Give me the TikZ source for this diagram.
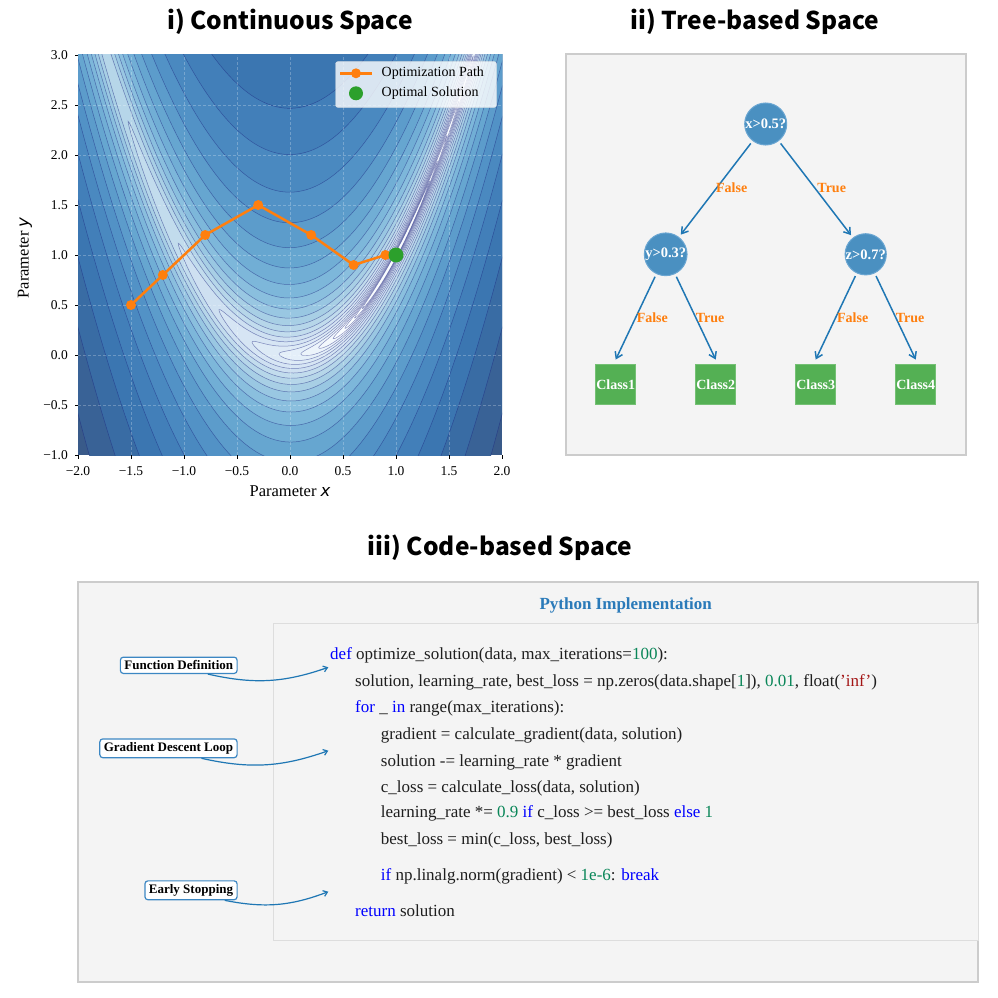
\documentclass[tikz,border=0pt]{standalone}
\usepackage{fontspec}
\setmainfont{Liberation Serif}
\newfontfamily\titlefont{Noto Sans CJK SC}
\newfontfamily\djv{DejaVu Sans}
\usetikzlibrary{arrows.meta}
\definecolor{B0}{HTML}{F7FBFF}
\definecolor{B1}{HTML}{DEEBF7}
\definecolor{B2}{HTML}{C6DBEF}
\definecolor{B3}{HTML}{9ECAE1}
\definecolor{B4}{HTML}{6BAED6}
\definecolor{B5}{HTML}{4292C6}
\definecolor{B6}{HTML}{2171B5}
\definecolor{B7}{HTML}{08519C}
\definecolor{B8}{HTML}{08306B}
\definecolor{mplblue}{HTML}{1F77B4}
\definecolor{mplorange}{HTML}{FF7F0E}
\definecolor{mplgreen}{HTML}{2CA02C}
\definecolor{panelbg}{HTML}{F4F4F4}
\definecolor{panelbd}{HTML}{CCCCCC}
\definecolor{innerbd}{HTML}{DDDDDD}
\definecolor{kwc}{HTML}{0000FF}
\definecolor{numc}{HTML}{098658}
\definecolor{strc}{HTML}{A31515}
\definecolor{codetxt}{HTML}{1E1E1E}
\definecolor{linec}{HTML}{1A237E}
\definecolor{dcol}{HTML}{4A90C1}
\definecolor{dbd}{HTML}{6AA6D2}
\definecolor{lcol}{HTML}{54B054}
\definecolor{lbd}{HTML}{74C074}
\definecolor{annbd}{HTML}{3C87C3}
\definecolor{pytitle}{HTML}{2A7AB9}
\newcommand\ckw[1]{\textcolor{kwc}{#1}}
\newcommand\cnum[1]{\textcolor{numc}{#1}}
\newcommand\cstr[1]{\textcolor{strc}{#1}}
\begin{document}
\begin{tikzpicture}[x=1pt,y=-1pt,
  paneltitle/.style={font=\titlefont\bfseries\fontsize{24.5}{28}\selectfont},
  mytick/.style={font=\fontsize{13.5}{16}\selectfont, inner sep=0pt},
  axlabel/.style={font=\fontsize{16.5}{19}\selectfont, inner sep=0pt},
  contourline/.style={draw=linec, draw opacity=0.5, line width=0.5pt},
  gridl/.style={draw=white, draw opacity=0.25, dash pattern=on 3pt off 2pt, line width=0.6pt},
  pathl/.style={draw=mplorange, line width=2.5pt},
  dnode/.style={circle, minimum size=40pt, inner sep=0pt, fill=dcol, draw=dbd, line width=1pt, text=white, font=\bfseries\fontsize{14.5}{16}\selectfont},
  leaf/.style={rectangle, minimum size=40.5pt, inner sep=0pt, fill=lcol, draw=lbd, line width=1pt, text=white, font=\bfseries\fontsize{14}{16}\selectfont},
  tarrow/.style={draw=mplblue, line width=1.5pt, -{Straight Barb[length=6pt,width=8pt]}, shorten >=3pt, shorten <=3pt},
  elabel/.style={text=mplorange, inner sep=0pt, font=\bfseries\fontsize{14}{16}\selectfont},
  panelbox/.style={fill=panelbg, draw=panelbd, line width=1.5pt, inner sep=0pt},
  annot/.style={draw=annbd, fill=white, rounded corners=3pt, line width=1.2pt, font=\bfseries\fontsize{13}{15}\selectfont, inner xsep=4pt, inner ysep=3.5pt, anchor=east},
  annarrow/.style={draw=mplblue, line width=1.2pt, -{Straight Barb[length=4pt,width=6pt]}},
  codeline/.style={anchor=base west, inner sep=0pt, text=codetxt, font=\fontsize{17}{20}\selectfont}
]
\useasboundingbox (0,0) rectangle (997,998);
\fill[white] (0,0) rectangle (997,998);

% ---------- titles
\node[paneltitle] (t1) at (290,22) {i) Continuous Space};
\node[paneltitle] (t2) at (755,22) {ii) Tree-based Space};
\node[paneltitle] (t3) at (500,548) {iii) Code-based Space};

% ---------- contour plot
\begin{scope}[shift={(290,355)}, x={(106pt,0pt)}, y={(0pt,100pt)}]
  \begin{scope}
    \clip (-2,-1) rectangle (2,3);
    \fill[B8!80!white] (-2,-1) rectangle (2,3);
    \foreach \j in {0,...,24}{
      \pgfmathsetmacro\lev{3.325-0.18*\j}
      \pgfmathsetmacro\rr{sqrt(pow(10,\lev))}
      \pgfmathsetmacro\cA{max(-1,-3.05/\rr)}
      \pgfmathsetmacro\cB{min(1,1.05/\rr)}
      \pgfmathsetmacro\tA{acos(\cB)}
      \pgfmathsetmacro\tB{acos(\cA)}
      \pgfmathsetmacro\tv{max(0,min(7.999,8*(\lev-0.09+0.5)/3.9))}
      \pgfmathtruncatemacro\kseg{floor(\tv)}
      \pgfmathtruncatemacro\kup{\kseg+1}
      \pgfmathsetmacro\pc{(\tv-\kseg)*100}
      \colorlet{tmpc}{B\kup!\pc!B\kseg}
      \colorlet{bandc}{tmpc!80!white}
      \fill[bandc] plot[domain=\tA:\tB, samples=120, variable=\t] ({1+\rr*cos(\t)}, {(1+\rr*cos(\t))^2+\rr/10*sin(\t)})
        -- plot[domain=\tB:\tA, samples=120, variable=\t] ({1+\rr*cos(\t)}, {(1+\rr*cos(\t))^2-\rr/10*sin(\t)}) -- cycle;
    }
    \foreach \j in {0,...,24}{
      \pgfmathsetmacro\lev{3.325-0.18*\j}
      \pgfmathsetmacro\rr{sqrt(pow(10,\lev))}
      \pgfmathsetmacro\cA{max(-1,-3.05/\rr)}
      \pgfmathsetmacro\cB{min(1,1.05/\rr)}
      \pgfmathsetmacro\tA{acos(\cB)}
      \pgfmathsetmacro\tB{acos(\cA)}
      \draw[contourline] plot[domain=\tA:\tB, samples=120, variable=\t] ({1+\rr*cos(\t)}, {(1+\rr*cos(\t))^2+\rr/10*sin(\t)})
        -- plot[domain=\tB:\tA, samples=120, variable=\t] ({1+\rr*cos(\t)}, {(1+\rr*cos(\t))^2-\rr/10*sin(\t)}) -- cycle;
    }
    \foreach \v in {-1.5,-1,-0.5,0,0.5,1,1.5}{
      \draw[gridl] (\v,-1) -- (\v,3);
    }
    \foreach \v in {-0.5,0,0.5,1,1.5,2,2.5}{
      \draw[gridl] (-2,\v) -- (2,\v);
    }
  \end{scope}
  % ticks
  \foreach \v/\lab in {-2/−2.0,-1.5/−1.5,-1/−1.0,-0.5/−0.5,0/0.0,0.5/0.5,1/1.0,1.5/1.5,2/2.0}{
    \draw[black, line width=0.8pt] (\v,-1) -- ++(0pt,-3.5pt);
    \node[mytick] (xt) at (\v,-1.16) {\lab};
  }
  \foreach \v/\lab in {-1/−1.0,-0.5/−0.5,0/0.0,0.5/0.5,1/1.0,1.5/1.5,2/2.0,2.5/2.5,3/3.0}{
    \draw[black, line width=0.8pt] (-2,\v) -- ++(-3.5pt,0pt);
    \node[mytick, anchor=east] (yt) at (-2.094,\v) {\lab};
  }
  % optimisation path
  \coordinate (p1) at (-1.5,0.5);
  \coordinate (p2) at (-1.2,0.8);
  \coordinate (p3) at (-0.8,1.2);
  \coordinate (p4) at (-0.3,1.5);
  \coordinate (p5) at (0.2,1.2);
  \coordinate (p6) at (0.6,0.9);
  \coordinate (p7) at (0.9,1.0);
  \draw[pathl] (p1) -- (p2) -- (p3) -- (p4) -- (p5) -- (p6) -- (p7);
  \foreach \p in {p1,p2,p3,p4,p5,p6,p7}{
    \fill[mplorange] (\p) circle (5pt);
  }
  \node[circle, fill=mplgreen, minimum size=15pt, inner sep=0pt] (opt) at (1,1) {};
\end{scope}

% axis labels
\node[axlabel] (xl) at (290,491) {Parameter {\djv\itshape x}};
\node[axlabel, rotate=90] (yl) at (25,258) {Parameter {\djv\itshape y}};

% legend
\node[draw=black!15, fill=white, fill opacity=0.8, draw opacity=0.8, rounded corners=2.5pt, minimum width=161pt, minimum height=46pt, inner sep=0pt] (leg) at (416,84.5) {};
\coordinate (lga) at (340,73.3);
\coordinate (lgb) at (372,73.3);
\draw[pathl] (lga) -- (lgb);
\fill[mplorange] (356,73.3) circle (5pt);
\node[circle, fill=mplgreen, minimum size=14pt, inner sep=0pt] (lgdot) at (356,93.3) {};
\node[anchor=west, inner sep=0pt, font=\fontsize{14}{16}\selectfont] (lg1) at (381.5,73.3) {Optimization Path};
\node[anchor=west, inner sep=0pt, font=\fontsize{14}{16}\selectfont] (lg2) at (381.5,93.3) {Optimal Solution};

% ---------- tree panel
\node[panelbox, minimum width=400pt, minimum height=401pt] (treepanel) at (766,254.5) {};
\node[dnode] (r) at (765.7,124) {x>0.5?};
\node[dnode] (c1) at (665.7,254.3) {y>0.3?};
\node[dnode] (c2) at (865.7,254.3) {z>0.7?};
\node[leaf] (L1) at (615.7,384.3) {Class1};
\node[leaf] (L2) at (715.7,384.3) {Class2};
\node[leaf] (L3) at (815.7,384.3) {Class3};
\node[leaf] (L4) at (915.7,384.3) {Class4};
\draw[tarrow] (r) -- (c1);
\draw[tarrow] (r) -- (c2);
\draw[tarrow, shorten >=0pt] (c1) -- ([yshift=4pt]L1.north);
\draw[tarrow, shorten >=0pt] (c1) -- ([yshift=4pt]L2.north);
\draw[tarrow, shorten >=0pt] (c2) -- ([yshift=4pt]L3.north);
\draw[tarrow, shorten >=0pt] (c2) -- ([yshift=4pt]L4.north);
\node[elabel] (e1) at (731.7,187.7) {False};
\node[elabel] (e2) at (831.7,187.7) {True};
\node[elabel] (e3) at (652.3,317.7) {False};
\node[elabel] (e4) at (710,317.7) {True};
\node[elabel] (e5) at (852.7,317.7) {False};
\node[elabel] (e6) at (910,317.7) {True};

% ---------- code panel
\node[panelbox, minimum width=900pt, minimum height=400pt] (codepanel) at (528,782) {};
\node[fill=panelbg, draw=innerbd, line width=1pt, inner sep=0pt, minimum width=705pt, minimum height=317pt] (codebox) at (625.5,781.5) {};
\node[text=pytitle, font=\bfseries\fontsize{17}{20}\selectfont] (pyt) at (625.7,605.5) {Python Implementation};

\node[codeline] (l1) at (330,659.3) {\ckw{def} optimize\_solution(data, max\_iterations=\cnum{100}):};
\node[codeline] (l2) at (355,686) {solution, learning\_rate, best\_loss = np.zeros(data.shape[\cnum{1}]), \cnum{0.01}, float(\cstr{'inf'})};
\node[codeline] (l3) at (355,712.7) {\ckw{for} \_ \ckw{in} range(max\_iterations):};
\node[codeline] (l4) at (380.7,739.3) {gradient = calculate\_gradient(data, solution)};
\node[codeline] (l5) at (380.7,766) {solution -= learning\_rate * gradient};
\node[codeline] (l6) at (380.7,792) {c\_loss = calculate\_loss(data, solution)};
\node[codeline] (l7) at (380.7,817.7) {learning\_rate *= \cnum{0.9} \ckw{if} c\_loss >= best\_loss \ckw{else} \cnum{1}};
\node[codeline] (l8) at (380.7,844.3) {best\_loss = min(c\_loss, best\_loss)};
\node[codeline] (l9) at (380.7,880) {\ckw{if} np.linalg.norm(gradient) < \cnum{1e-6}: \ckw{break}};
\node[codeline] (l10) at (355,916) {\ckw{return} solution};

\node[annot] (fd) at (237.7,665.3) {Function Definition};
\node[annot] (gd) at (237.7,748.3) {Gradient Descent Loop};
\node[annot] (es) at (237.7,890.3) {Early Stopping};
\coordinate (fdT) at (328.3,667.3);
\coordinate (gdT) at (328.3,750.7);
\coordinate (esT) at (328.3,891.7);
\draw[annarrow] (fd) to[bend right=16] (fdT);
\draw[annarrow] (gd) to[bend right=16] (gdT);
\draw[annarrow] (es) to[bend right=16] (esT);
\end{tikzpicture}
\end{document}
